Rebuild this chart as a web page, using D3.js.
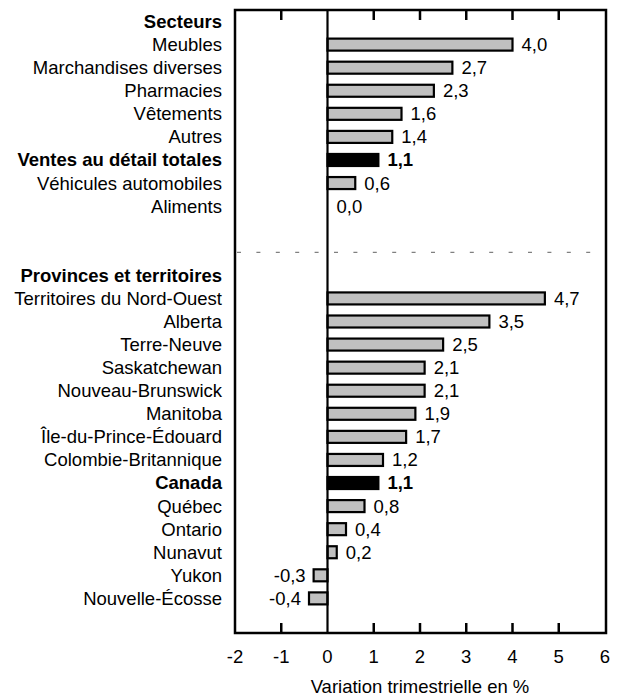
<!DOCTYPE html>
<html>
<head>
<meta charset="utf-8">
<script src="https://cdn.jsdelivr.net/npm/d3@7"></script>
<style>
  body { margin: 0; background: #fff; }
  text { font-family: "Liberation Sans", Arial, sans-serif; }
</style>
</head>
<body>
<div id="chart"></div>
<script>
// chart data
var sectorTitle = "Secteurs";
var sectors = ["Meubles", "Marchandises diverses", "Pharmacies", "Vêtements", "Autres",
               "Ventes au détail totales", "Véhicules automobiles", "Aliments"];
var sectorValues = [4.0, 2.7, 2.3, 1.6, 1.4, 1.1, 0.6, 0.0];

var provinceTitle = "Provinces et territoires";
var provinces = ["Territoires du Nord-Ouest", "Alberta", "Terre-Neuve", "Saskatchewan",
                 "Nouveau-Brunswick", "Manitoba", "Île-du-Prince-Édouard", "Colombie-Britannique",
                 "Canada", "Québec", "Ontario", "Nunavut", "Yukon", "Nouvelle-Écosse"];
var provinceValues = [4.7, 3.5, 2.5, 2.1, 2.1, 1.9, 1.7, 1.2, 1.1, 0.8, 0.4, 0.2, -0.3, -0.4];

var totals = ["Ventes au détail totales", "Canada"];   // drawn black + bold
var xTicks = [-2, -1, 0, 1, 2, 3, 4, 5, 6];
var xTitle = "Variation trimestrielle en %";

// one list of rows, top to bottom (headers, blank row and the dashed divider take a slot)
var rows = [];
rows.push({type: "header", name: sectorTitle});
sectors.forEach(function(d, i) { rows.push({type: "bar", name: d, value: sectorValues[i]}); });
rows.push({type: "blank"});
rows.push({type: "divider"});
rows.push({type: "header", name: provinceTitle});
provinces.forEach(function(d, i) { rows.push({type: "bar", name: d, value: provinceValues[i]}); });
rows.push({type: "blank"});

// plot frame (don't call it "top", that's window.top)
var plotL = 235, plotR = 605, plotT = 10, plotB = 633;
var fs = "18.5px";

var svg = d3.select("#chart")
    .append("svg")
    .attr("width", 620)
    .attr("height", 698);

var x = d3.scaleLinear()
    .domain([xTicks[0], xTicks[xTicks.length - 1]])
    .range([plotL, plotR]);

var y = d3.scaleBand()
    .domain(d3.range(rows.length))
    .range([plotT, plotB])
    .padding(0);

var barH = 12;
var fmt = function(v) { return v.toFixed(1).replace(".", ","); };
var rowMid = function(d) { return y(rows.indexOf(d)) + y.bandwidth() / 2; };

// category labels on the left
svg.selectAll(".cat")
    .data(rows.filter(function(d) { return d.type == "header" || d.type == "bar"; }))
    .enter().append("text")
    .attr("class", "cat")
    .attr("x", 222)
    .attr("y", rowMid)
    .attr("dy", "0.35em")
    .attr("text-anchor", "end")
    .attr("font-size", fs)
    .attr("font-weight", function(d) { return (d.type == "header" || totals.indexOf(d.name) >= 0) ? "bold" : "normal"; })
    .style("fill", "#000")
    .text(function(d) { return d.name; });

// dashed separator between the two groups
var div = rows.find(function(d) { return d.type == "divider"; });
svg.append("line")
    .attr("x1", plotL + 2)
    .attr("x2", plotR - 8)
    .attr("y1", rowMid(div))
    .attr("y2", rowMid(div))
    .style("stroke", "#808080")
    .style("stroke-width", 1.2)
    .style("stroke-dasharray", "4,15.4");

var bars = rows.filter(function(d) { return d.type == "bar"; });

// bars
svg.selectAll(".bar")
    .data(bars)
    .enter().append("rect")
    .attr("class", "bar")
    .attr("x", function(d) { return x(Math.min(0, d.value)); })
    .attr("width", function(d) { return Math.abs(x(d.value) - x(0)); })
    .attr("y", function(d) { return rowMid(d) - barH / 2; })
    .attr("height", barH)
    .style("fill", function(d) { return totals.indexOf(d.name) >= 0 ? "#000" : "#c0c0c0"; })
    .style("stroke", "#000")
    .style("stroke-width", 2.2);

// value labels
svg.selectAll(".val")
    .data(bars)
    .enter().append("text")
    .attr("class", "val")
    .attr("x", function(d) { return d.value < 0 ? x(d.value) - 8 : x(d.value) + 9; })
    .attr("y", rowMid)
    .attr("dy", "0.35em")
    .attr("text-anchor", function(d) { return d.value < 0 ? "end" : "start"; })
    .attr("font-size", fs)
    .attr("font-weight", function(d) { return totals.indexOf(d.name) >= 0 ? "bold" : "normal"; })
    .text(function(d) { return fmt(d.value); });

// zero line
svg.append("line")
    .attr("x1", x(0)).attr("x2", x(0))
    .attr("y1", plotT).attr("y2", plotB)
    .style("stroke", "#000")
    .style("stroke-width", 2.2);

// inner ticks, top and bottom
var inner = xTicks.slice(1, -1).filter(function(t) { return t != 0; });
svg.selectAll(".ttop")
    .data(inner)
    .enter().append("line")
    .attr("x1", function(d) { return x(d); }).attr("x2", function(d) { return x(d); })
    .attr("y1", plotT).attr("y2", plotT + 10)
    .style("stroke", "#000")
    .style("stroke-width", 2.5);
svg.selectAll(".tbot")
    .data(inner)
    .enter().append("line")
    .attr("x1", function(d) { return x(d); }).attr("x2", function(d) { return x(d); })
    .attr("y1", plotB).attr("y2", plotB - 10)
    .style("stroke", "#000")
    .style("stroke-width", 2.5);

// frame
svg.append("rect")
    .attr("x", plotL)
    .attr("y", plotT)
    .attr("width", plotR + 1 - plotL)
    .attr("height", plotB - plotT)
    .style("fill", "none")
    .style("stroke", "#000")
    .style("stroke-width", 2.5);

// tick labels
svg.selectAll(".tl")
    .data(xTicks)
    .enter().append("text")
    .attr("class", "tl")
    .attr("x", function(d) { return x(d); })
    .attr("y", 663)
    .attr("text-anchor", "middle")
    .attr("font-size", fs)
    .text(function(d) { return d; });

// axis title
svg.append("text")
    .attr("x", (plotL + plotR) / 2)
    .attr("y", 693)
    .attr("text-anchor", "middle")
    .attr("font-size", fs)
    .text(xTitle);
</script>
</body>
</html>
